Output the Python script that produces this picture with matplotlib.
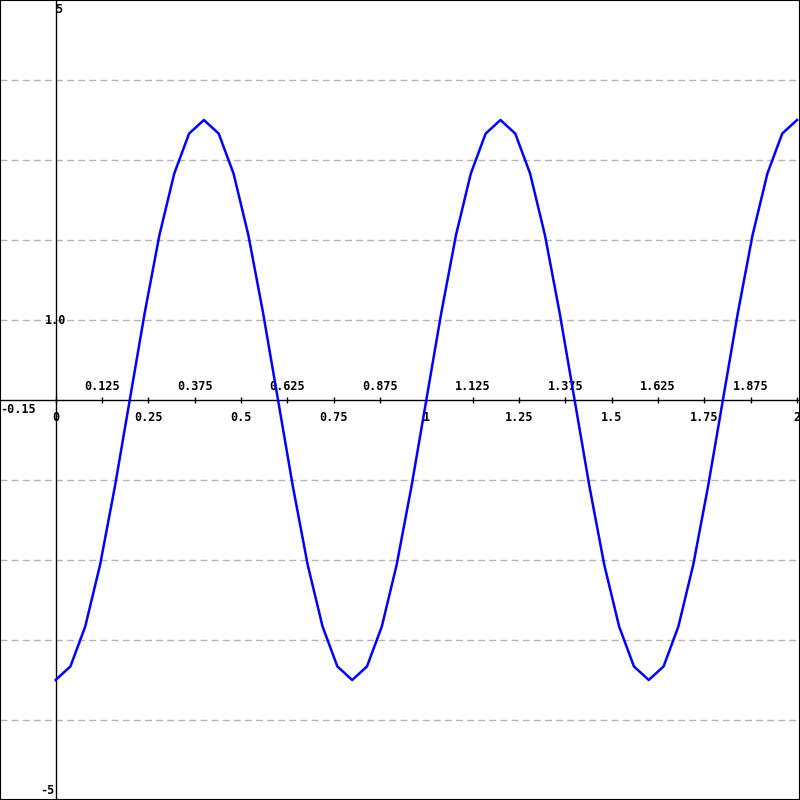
import matplotlib
matplotlib.use("Agg")
import matplotlib.pyplot as plt
from matplotlib.patches import Rectangle

x_vals = [0.00, 0.04, 0.08, 0.12, 0.16, 0.20, 0.24, 0.28, 0.32, 0.36,
          0.40, 0.44, 0.48, 0.52, 0.56, 0.60, 0.64, 0.68, 0.72, 0.76,
          0.80, 0.84, 0.88, 0.92, 0.96, 1.00, 1.04, 1.08, 1.12, 1.16,
          1.20, 1.24, 1.28, 1.32, 1.36, 1.40, 1.44, 1.48, 1.52, 1.56,
          1.60, 1.64, 1.68, 1.72, 1.76, 1.80, 1.84, 1.88, 1.92, 1.96,
          2.00]
y_vals = [-3.50, -3.33, -2.83, -2.06, -1.08, 0.00, 1.08, 2.06, 2.83, 3.33,
          3.50, 3.33, 2.83, 2.06, 1.08, 0.00, -1.08, -2.06, -2.83, -3.33,
          -3.50, -3.33, -2.83, -2.06, -1.08, 0.00, 1.08, 2.06, 2.83, 3.33,
          3.50, 3.33, 2.83, 2.06, 1.08, 0.00, -1.08, -2.06, -2.83, -3.33,
          -3.50, -3.33, -2.83, -2.06, -1.08, 0.00, 1.08, 2.06, 2.83, 3.33,
          3.50]

major_ticks = [0, 0.25, 0.5, 0.75, 1, 1.25, 1.5, 1.75, 2]
major_labels = ["0", "0.25", "0.5", "0.75", "1", "1.25", "1.5", "1.75", "2"]
minor_ticks = [0.125, 0.375, 0.625, 0.875, 1.125, 1.375, 1.625, 1.875]
minor_labels = ["0.125", "0.375", "0.625", "0.875", "1.125", "1.375", "1.625", "1.875"]
grid_y = [-4, -3, -2, -1, 1, 2, 3, 4]

XMIN, XMAX = -0.15, 2.008
YMIN, YMAX = -5, 5

font = dict(family="DejaVu Sans Mono", fontweight="bold", fontsize=8.5, color="black")

fig = plt.figure(figsize=(8, 8), dpi=100)
ax = fig.add_axes([0, 0, 1, 1])
ax.set_xlim(XMIN, XMAX)
ax.set_ylim(YMIN, YMAX)

for s in ax.spines.values():
    s.set_visible(False)
ax.set_xticks([])
ax.set_yticks([])

# dashed horizontal grid
for g in grid_y:
    ax.axhline(g, color="#b4b4b4", lw=1, ls=(0, (5, 3)), zorder=1)

# axes through the origin
ax.axhline(0, color="black", lw=1, zorder=2)
ax.axvline(0, color="black", lw=1, zorder=2)

# tick marks crossing the x axis
tick_x = sorted(major_ticks + minor_ticks)
ax.plot(tick_x, [0] * len(tick_x), ls="none", marker="|", ms=4.5, mew=1,
        color="black", zorder=2)

# labels: major below, minor above
for t, lab in zip(major_ticks, major_labels):
    ax.annotate(lab, (t, 0), xytext=(0, -8), textcoords="offset points",
                ha="center", va="top", **font)
for t, lab in zip(minor_ticks, minor_labels):
    ax.annotate(lab, (t, 0), xytext=(0, 5), textcoords="offset points",
                ha="center", va="bottom", **font)

ax.annotate(f"{XMIN:g}", (XMIN, 0), xytext=(0, -2), textcoords="offset points",
            ha="left", va="top", **font)
ax.annotate(f"{YMAX:g}", (0, YMAX), xytext=(0, -2), textcoords="offset points",
            ha="left", va="top", **font)
ax.annotate(f"{YMIN:g}", (0, YMIN), xytext=(-1, 2), textcoords="offset points",
            ha="right", va="bottom", **font)
ax.annotate("1.0", (0, 1), ha="center", va="center", **font)

ax.plot(x_vals, y_vals, color="#0000ff", lw=1.8, zorder=3)

fig.add_artist(Rectangle((0, 0), 1, 1, transform=fig.transFigure, fill=False,
                         edgecolor="black", lw=1.5))

fig.savefig("out.png", dpi=100, facecolor="white")
